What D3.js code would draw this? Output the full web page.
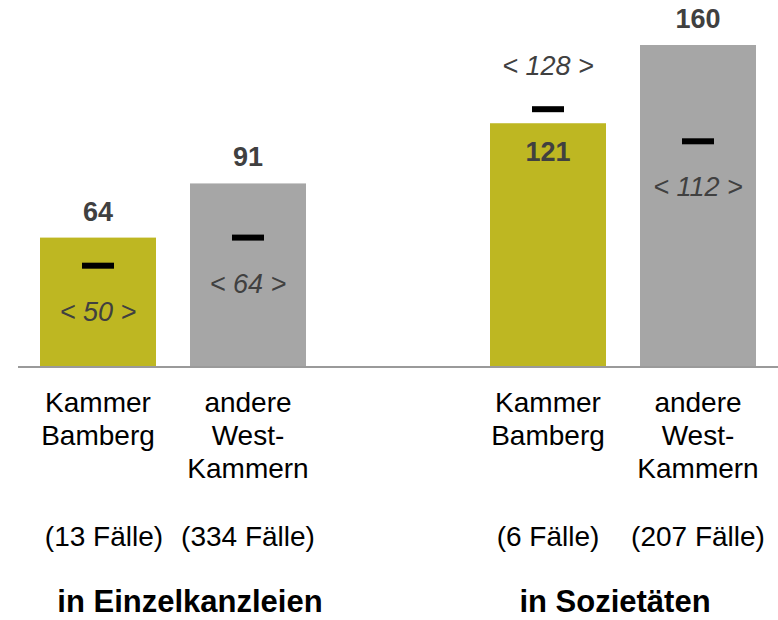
<!DOCTYPE html>
<html>
<head>
<meta charset="utf-8">
<script src="https://cdn.jsdelivr.net/npm/d3@7"></script>
<style>
  body { margin: 0; background: #fff; }
  text { font-family: "Liberation Sans", Arial, sans-serif; }
</style>
</head>
<body>
<svg></svg>
<script>
const width = 778;
const height = 620;

// data
const groups = ['in Einzelkanzleien', 'in Sozietäten'];
const series = ['Kammer Bamberg', 'andere West-Kammern'];
const seriesLines = [['Kammer', 'Bamberg'], ['andere', 'West-', 'Kammern']];
const averages = [[64, 91], [121, 160]];
const medians = [[50, 64], [128, 112]];
const cases = [[13, 334], [6, 207]];

const colors = ['#BEB722', '#A6A6A6'];
const titleX = [190, 615];

const svg = d3.select('svg')
    .attr('width', width)
    .attr('height', height);

const x0 = d3.scaleBand()
    .domain(groups)
    .range([40, 756])
    .paddingInner(184 / 450)
    .paddingOuter(0);

const x1 = d3.scaleBand()
    .domain(series)
    .range([0, x0.bandwidth()])
    .paddingInner(34 / 150)
    .paddingOuter(0);

const y = d3.scaleLinear()
    .domain([0, 160])
    .range([366, 45]);

// flatten into bar records
const bars = [];
groups.forEach((g, gi) => {
    series.forEach((s, si) => {
        bars.push({
            group: g, series: s, si: si,
            value: averages[gi][si],
            median: medians[gi][si],
            n: cases[gi][si]
        });
    });
});

const bx = d => x0(d.group) + x1(d.series);
const cx = d => bx(d) + x1.bandwidth() / 2;

svg.selectAll('.bar')
    .data(bars)
    .enter().append('rect')
    .attr('class', 'bar')
    .attr('x', bx)
    .attr('y', d => y(d.value))
    .attr('width', x1.bandwidth())
    .attr('height', d => y(0) - y(d.value))
    .attr('fill', d => colors[d.si]);

// baseline
svg.append('line')
    .attr('x1', 18)
    .attr('x2', width)
    .attr('y1', y(0) + 1)
    .attr('y2', y(0) + 1)
    .attr('stroke', '#9a9a9a')
    .attr('stroke-width', 2);

// median markers
svg.selectAll('.median')
    .data(bars)
    .enter().append('rect')
    .attr('class', 'median')
    .attr('x', d => cx(d) - 16)
    .attr('y', d => y(d.median) - 3)
    .attr('width', 32)
    .attr('height', 6)
    .attr('fill', '#000');

// average labels: above the bar, or inside when the median marker sits above it
svg.selectAll('.val')
    .data(bars)
    .enter().append('text')
    .attr('class', 'val')
    .attr('x', cx)
    .attr('y', d => d.median > d.value ? y(d.value) + 38 : y(d.value) - 17)
    .attr('text-anchor', 'middle')
    .style('font-size', '27px')
    .style('font-weight', 'bold')
    .style('fill', '#404040')
    .text(d => d.value);

// median labels
svg.selectAll('.med')
    .data(bars)
    .enter().append('text')
    .attr('class', 'med')
    .attr('x', cx)
    .attr('y', d => d.median > d.value ? y(d.median) - 34 : y(d.median) + 55)
    .attr('text-anchor', 'middle')
    .style('font-size', '27px')
    .style('font-style', 'italic')
    .style('fill', '#404040')
    .text(d => `< ${d.median} >`);

// category labels
const cat = svg.selectAll('.cat')
    .data(bars)
    .enter().append('text')
    .attr('class', 'cat')
    .attr('text-anchor', 'middle')
    .style('font-size', '28px')
    .style('fill', '#000');

cat.selectAll('tspan')
    .data(d => seriesLines[d.si].map(t => ({ t: t, x: cx(d) })))
    .enter().append('tspan')
    .attr('x', d => d.x)
    .attr('y', (d, i) => 412 + i * 33)
    .text(d => d.t);

// number of cases
svg.selectAll('.cases')
    .data(bars)
    .enter().append('text')
    .attr('class', 'cases')
    .attr('x', d => cx(d) + (d.n === 13 ? 6 : 0))
    .attr('y', 546)
    .attr('text-anchor', 'middle')
    .style('font-size', '28px')
    .style('fill', '#000')
    .text(d => `(${d.n} Fälle)`);

// group titles
svg.selectAll('.title')
    .data(groups)
    .enter().append('text')
    .attr('class', 'title')
    .attr('x', (d, i) => titleX[i])
    .attr('y', 612)
    .attr('text-anchor', 'middle')
    .style('font-size', '31px')
    .style('font-weight', 'bold')
    .style('fill', '#000')
    .text(d => d);
</script>
</body>
</html>
